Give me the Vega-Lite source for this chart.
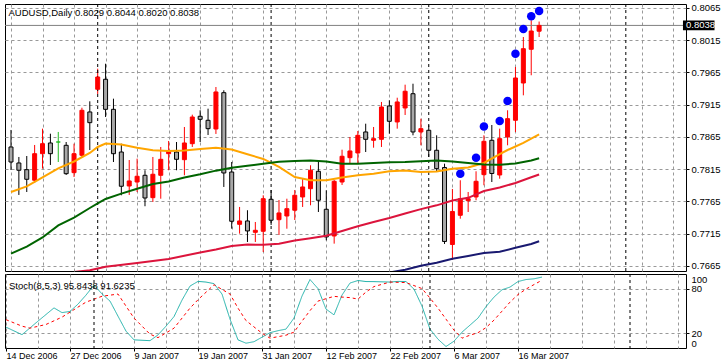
{
  "$schema": "https://vega.github.io/schema/vega-lite/v6.json",
  "padding": {"left": 4, "top": 2, "right": 0, "bottom": 0},
  "background": "white",
  "spacing": 1,
  "resolve": {"scale": {"color": "independent", "stroke": "independent", "fill": "independent", "strokeDash": "independent"}},
  "config": {
    "view": {"stroke": "black", "strokeWidth": 1},
    "font": "Liberation Sans",
    "axis": {"labelFont": "Liberation Sans", "labelFontSize": 9.5, "labelColor": "black", "tickColor": "black", "gridColor": "#999999", "gridDash": [3, 3], "gridWidth": 1, "domain": false, "labelOverlap": false},
    "title": {"font": "Liberation Sans", "fontSize": 9.5, "fontWeight": "normal", "color": "black", "anchor": "start"}
  },
  "datasets": {
    "candles": [
      {"i":0,"date":"2006-12-14","o":0.78495,"h":0.78759,"l":0.78138,"c":0.78262,"dir":"down"},
      {"i":1,"date":"2006-12-15","o":0.78247,"h":0.78340,"l":0.77751,"c":0.78134,"dir":"down"},
      {"i":2,"date":"2006-12-18","o":0.78143,"h":0.78355,"l":0.77797,"c":0.77994,"dir":"down"},
      {"i":3,"date":"2006-12-19","o":0.77979,"h":0.78526,"l":0.77937,"c":0.78391,"dir":"up"},
      {"i":4,"date":"2006-12-20","o":0.78391,"h":0.78779,"l":0.78159,"c":0.78546,"dir":"up"},
      {"i":5,"date":"2006-12-21","o":0.78557,"h":0.78701,"l":0.78216,"c":0.78391,"dir":"down"},
      {"i":6,"date":"2006-12-22","o":0.78572,"h":0.78728,"l":0.78262,"c":0.78572,"dir":"doji"},
      {"i":7,"date":"2006-12-26","o":0.78521,"h":0.78572,"l":0.78061,"c":0.78081,"dir":"down"},
      {"i":8,"date":"2006-12-27","o":0.78097,"h":0.78546,"l":0.78030,"c":0.78391,"dir":"up"},
      {"i":9,"date":"2006-12-28","o":0.78366,"h":0.79104,"l":0.78340,"c":0.79064,"dir":"up"},
      {"i":10,"date":"2006-12-29","o":0.79038,"h":0.79203,"l":0.78448,"c":0.78872,"dir":"down"},
      {"i":11,"date":"2007-01-02","o":0.79390,"h":0.79709,"l":0.79317,"c":0.79580,"dir":"up"},
      {"i":12,"date":"2007-01-03","o":0.79545,"h":0.79786,"l":0.78960,"c":0.79079,"dir":"down"},
      {"i":13,"date":"2007-01-04","o":0.79079,"h":0.79244,"l":0.78262,"c":0.78391,"dir":"down"},
      {"i":14,"date":"2007-01-05","o":0.78417,"h":0.78546,"l":0.77746,"c":0.77886,"dir":"down"},
      {"i":15,"date":"2007-01-08","o":0.77890,"h":0.78293,"l":0.77751,"c":0.77968,"dir":"up"},
      {"i":16,"date":"2007-01-09","o":0.77952,"h":0.78314,"l":0.77797,"c":0.78041,"dir":"up"},
      {"i":17,"date":"2007-01-10","o":0.78056,"h":0.78134,"l":0.77576,"c":0.77704,"dir":"down"},
      {"i":18,"date":"2007-01-11","o":0.77709,"h":0.78340,"l":0.77642,"c":0.78072,"dir":"up"},
      {"i":19,"date":"2007-01-12","o":0.78056,"h":0.78495,"l":0.77693,"c":0.78304,"dir":"up"},
      {"i":20,"date":"2007-01-15","o":0.78391,"h":0.78588,"l":0.78134,"c":0.78433,"dir":"up"},
      {"i":21,"date":"2007-01-16","o":0.78417,"h":0.78572,"l":0.78134,"c":0.78304,"dir":"down"},
      {"i":22,"date":"2007-01-17","o":0.78298,"h":0.78805,"l":0.78056,"c":0.78557,"dir":"up"},
      {"i":23,"date":"2007-01-18","o":0.78546,"h":0.78996,"l":0.78495,"c":0.78960,"dir":"up"},
      {"i":24,"date":"2007-01-19","o":0.78971,"h":0.79064,"l":0.78572,"c":0.78924,"dir":"down"},
      {"i":25,"date":"2007-01-22","o":0.78909,"h":0.79089,"l":0.78681,"c":0.78779,"dir":"down"},
      {"i":26,"date":"2007-01-23","o":0.78774,"h":0.79425,"l":0.78697,"c":0.79348,"dir":"up"},
      {"i":27,"date":"2007-01-24","o":0.79337,"h":0.79374,"l":0.77875,"c":0.78092,"dir":"down"},
      {"i":28,"date":"2007-01-25","o":0.78107,"h":0.78262,"l":0.77228,"c":0.77343,"dir":"down"},
      {"i":29,"date":"2007-01-26","o":0.77296,"h":0.77565,"l":0.77151,"c":0.77348,"dir":"up"},
      {"i":30,"date":"2007-01-29","o":0.77348,"h":0.77514,"l":0.77022,"c":0.77193,"dir":"down"},
      {"i":31,"date":"2007-01-30","o":0.77172,"h":0.77332,"l":0.77022,"c":0.77203,"dir":"up"},
      {"i":32,"date":"2007-01-31","o":0.77188,"h":0.77746,"l":0.76867,"c":0.77693,"dir":"up"},
      {"i":33,"date":"2007-02-01","o":0.77684,"h":0.77828,"l":0.77286,"c":0.77359,"dir":"down"},
      {"i":34,"date":"2007-02-02","o":0.77368,"h":0.77673,"l":0.77131,"c":0.77472,"dir":"up"},
      {"i":35,"date":"2007-02-05","o":0.77425,"h":0.77693,"l":0.77228,"c":0.77538,"dir":"up"},
      {"i":36,"date":"2007-02-06","o":0.77514,"h":0.77828,"l":0.77363,"c":0.77746,"dir":"up"},
      {"i":37,"date":"2007-02-07","o":0.77720,"h":0.78003,"l":0.77565,"c":0.77875,"dir":"up"},
      {"i":38,"date":"2007-02-08","o":0.77848,"h":0.78211,"l":0.77591,"c":0.78134,"dir":"up"},
      {"i":39,"date":"2007-02-09","o":0.78118,"h":0.78262,"l":0.77487,"c":0.77669,"dir":"down"},
      {"i":40,"date":"2007-02-12","o":0.77529,"h":0.77824,"l":0.77048,"c":0.77100,"dir":"down"},
      {"i":41,"date":"2007-02-13","o":0.77115,"h":0.77983,"l":0.76996,"c":0.77963,"dir":"up"},
      {"i":42,"date":"2007-02-14","o":0.77952,"h":0.78453,"l":0.77906,"c":0.78351,"dir":"up"},
      {"i":43,"date":"2007-02-15","o":0.78329,"h":0.78650,"l":0.78236,"c":0.78433,"dir":"up"},
      {"i":44,"date":"2007-02-16","o":0.78402,"h":0.78743,"l":0.78236,"c":0.78676,"dir":"up"},
      {"i":45,"date":"2007-02-19","o":0.78728,"h":0.78856,"l":0.78417,"c":0.78614,"dir":"down"},
      {"i":46,"date":"2007-02-20","o":0.78599,"h":0.78805,"l":0.78484,"c":0.78624,"dir":"up"},
      {"i":47,"date":"2007-02-21","o":0.78614,"h":0.79193,"l":0.78495,"c":0.79115,"dir":"up"},
      {"i":48,"date":"2007-02-22","o":0.79131,"h":0.79219,"l":0.78701,"c":0.78893,"dir":"down"},
      {"i":49,"date":"2007-02-23","o":0.78883,"h":0.79259,"l":0.78779,"c":0.79193,"dir":"up"},
      {"i":50,"date":"2007-02-26","o":0.79100,"h":0.79461,"l":0.78991,"c":0.79359,"dir":"up"},
      {"i":51,"date":"2007-02-27","o":0.79321,"h":0.79476,"l":0.78676,"c":0.78728,"dir":"down"},
      {"i":52,"date":"2007-02-28","o":0.78728,"h":0.78934,"l":0.78521,"c":0.78779,"dir":"up"},
      {"i":53,"date":"2007-03-01","o":0.78754,"h":0.78831,"l":0.78340,"c":0.78444,"dir":"down"},
      {"i":54,"date":"2007-03-02","o":0.78444,"h":0.78676,"l":0.78107,"c":0.78159,"dir":"down"},
      {"i":55,"date":"2007-03-05","o":0.78177,"h":0.78236,"l":0.76991,"c":0.77030,"dir":"down"},
      {"i":56,"date":"2007-03-06","o":0.76983,"h":0.77844,"l":0.76743,"c":0.77495,"dir":"up"},
      {"i":57,"date":"2007-03-07","o":0.77436,"h":0.77979,"l":0.77383,"c":0.77693,"dir":"up"},
      {"i":58,"date":"2007-03-08","o":0.77662,"h":0.77797,"l":0.77487,"c":0.77693,"dir":"up"},
      {"i":59,"date":"2007-03-09","o":0.77720,"h":0.78118,"l":0.77669,"c":0.77963,"dir":"up"},
      {"i":60,"date":"2007-03-12","o":0.78066,"h":0.78676,"l":0.77901,"c":0.78583,"dir":"up"},
      {"i":61,"date":"2007-03-13","o":0.78599,"h":0.78836,"l":0.77952,"c":0.78084,"dir":"down"},
      {"i":62,"date":"2007-03-14","o":0.78061,"h":0.78779,"l":0.78003,"c":0.78624,"dir":"up"},
      {"i":63,"date":"2007-03-15","o":0.78650,"h":0.79064,"l":0.78521,"c":0.78934,"dir":"up"},
      {"i":64,"date":"2007-03-16","o":0.78909,"h":0.79735,"l":0.78728,"c":0.79565,"dir":"up"},
      {"i":65,"date":"2007-03-19","o":0.79487,"h":0.80200,"l":0.79296,"c":0.80019,"dir":"up"},
      {"i":66,"date":"2007-03-20","o":0.80010,"h":0.80459,"l":0.79607,"c":0.80293,"dir":"up"},
      {"i":67,"date":"2007-03-21","o":0.8029,"h":0.8044,"l":0.8020,"c":0.8038,"dir":"up"}
    ],
    "ma": [
      {"ma":"fast","i":0,"v":0.77797},{"ma":"fast","i":2,"v":0.77883},{"ma":"fast","i":4,"v":0.78022},{"ma":"fast","i":6,"v":0.78162},
      {"ma":"fast","i":8,"v":0.78270},{"ma":"fast","i":10,"v":0.78402},{"ma":"fast","i":11,"v":0.78495},{"ma":"fast","i":12,"v":0.78549},
      {"ma":"fast","i":14,"v":0.78534},{"ma":"fast","i":16,"v":0.78484},{"ma":"fast","i":18,"v":0.78445},{"ma":"fast","i":20,"v":0.78433},
      {"ma":"fast","i":22,"v":0.78442},{"ma":"fast","i":24,"v":0.78464},{"ma":"fast","i":26,"v":0.78484},{"ma":"fast","i":28,"v":0.78456},
      {"ma":"fast","i":30,"v":0.78383},{"ma":"fast","i":32,"v":0.78309},{"ma":"fast","i":34,"v":0.78185},{"ma":"fast","i":36,"v":0.78030},
      {"ma":"fast","i":38,"v":0.77979},{"ma":"fast","i":40,"v":0.77980},{"ma":"fast","i":42,"v":0.78021},{"ma":"fast","i":44,"v":0.78056},
      {"ma":"fast","i":46,"v":0.78081},{"ma":"fast","i":48,"v":0.78117},{"ma":"fast","i":50,"v":0.78132},{"ma":"fast","i":52,"v":0.78107},
      {"ma":"fast","i":54,"v":0.78115},{"ma":"fast","i":56,"v":0.78157},{"ma":"fast","i":58,"v":0.78176},{"ma":"fast","i":60,"v":0.78247},
      {"ma":"fast","i":62,"v":0.78386},{"ma":"fast","i":63,"v":0.78448},{"ma":"fast","i":64,"v":0.78503},{"ma":"fast","i":65,"v":0.78560},
      {"ma":"fast","i":66,"v":0.78624},{"ma":"fast","i":67,"v":0.78689},
      {"ma":"mid","i":0,"v":0.76841},{"ma":"mid","i":2,"v":0.76951},{"ma":"mid","i":4,"v":0.77092},{"ma":"mid","i":6,"v":0.77278},
      {"ma":"mid","i":8,"v":0.77399},{"ma":"mid","i":10,"v":0.77549},{"ma":"mid","i":11,"v":0.77619},{"ma":"mid","i":12,"v":0.77689},
      {"ma":"mid","i":14,"v":0.77771},{"ma":"mid","i":16,"v":0.77848},{"ma":"mid","i":18,"v":0.77921},{"ma":"mid","i":20,"v":0.77959},
      {"ma":"mid","i":22,"v":0.78022},{"ma":"mid","i":24,"v":0.78072},{"ma":"mid","i":26,"v":0.78128},{"ma":"mid","i":28,"v":0.78174},
      {"ma":"mid","i":30,"v":0.78203},{"ma":"mid","i":32,"v":0.78236},{"ma":"mid","i":34,"v":0.78265},{"ma":"mid","i":36,"v":0.78279},
      {"ma":"mid","i":38,"v":0.78287},{"ma":"mid","i":40,"v":0.78270},{"ma":"mid","i":42,"v":0.78236},{"ma":"mid","i":44,"v":0.78236},
      {"ma":"mid","i":46,"v":0.78247},{"ma":"mid","i":48,"v":0.78258},{"ma":"mid","i":50,"v":0.78262},{"ma":"mid","i":52,"v":0.78275},
      {"ma":"mid","i":54,"v":0.78287},{"ma":"mid","i":56,"v":0.78269},{"ma":"mid","i":58,"v":0.78247},{"ma":"mid","i":60,"v":0.78224},
      {"ma":"mid","i":62,"v":0.78219},{"ma":"mid","i":64,"v":0.78239},{"ma":"mid","i":65,"v":0.78262},{"ma":"mid","i":66,"v":0.78286},
      {"ma":"mid","i":67,"v":0.78320},
      {"ma":"slow","i":8,"v":0.76557},{"ma":"slow","i":10,"v":0.76583},{"ma":"slow","i":12,"v":0.76638},{"ma":"slow","i":16,"v":0.76697},
      {"ma":"slow","i":20,"v":0.76759},{"ma":"slow","i":24,"v":0.76859},{"ma":"slow","i":26,"v":0.76906},{"ma":"slow","i":28,"v":0.76960},
      {"ma":"slow","i":30,"v":0.76982},{"ma":"slow","i":32,"v":0.76979},{"ma":"slow","i":34,"v":0.76994},{"ma":"slow","i":36,"v":0.77045},
      {"ma":"slow","i":38,"v":0.77079},{"ma":"slow","i":40,"v":0.77118},{"ma":"slow","i":42,"v":0.77193},{"ma":"slow","i":44,"v":0.77265},
      {"ma":"slow","i":46,"v":0.77332},{"ma":"slow","i":48,"v":0.77394},{"ma":"slow","i":50,"v":0.77464},{"ma":"slow","i":52,"v":0.77531},
      {"ma":"slow","i":54,"v":0.77590},{"ma":"slow","i":56,"v":0.77666},{"ma":"slow","i":58,"v":0.77707},{"ma":"slow","i":60,"v":0.77813},
      {"ma":"slow","i":62,"v":0.77867},{"ma":"slow","i":64,"v":0.77937},{"ma":"slow","i":66,"v":0.78025},{"ma":"slow","i":67,"v":0.78069},
      {"ma":"vslow","i":48,"v":0.76549},{"ma":"vslow","i":50,"v":0.76591},{"ma":"vslow","i":52,"v":0.76653},{"ma":"vslow","i":54,"v":0.76700},
      {"ma":"vslow","i":56,"v":0.76763},{"ma":"vslow","i":58,"v":0.76805},{"ma":"vslow","i":60,"v":0.76852},{"ma":"vslow","i":62,"v":0.76870},
      {"ma":"vslow","i":64,"v":0.76932},{"ma":"vslow","i":66,"v":0.76991},{"ma":"vslow","i":67,"v":0.77033}
    ],
    "dots": [
      {"i":57,"v":0.78081},{"i":59,"v":0.78329},{"i":60,"v":0.78813},{"i":62,"v":0.78898},{"i":63,"v":0.79208},
      {"i":64,"v":0.79941},{"i":65,"v":0.80324},{"i":66,"v":0.80521},{"i":67,"v":0.80603}
    ],
    "seps": [
      {"i":11,"month":"Jan 2007"},{"i":33,"month":"Feb 2007"},{"i":53,"month":"Mar 2007"},{"i":78,"month":"Apr 2007"}
    ],
    "last": [{"i":67,"price":0.8038,"label":"0.8038"}],
    "stoch": [
      {"line":"K","i":0,"v":28.2},{"line":"K","i":2,"v":18},{"line":"K","i":4,"v":36.3},{"line":"K","i":6,"v":54.2},
      {"line":"K","i":7,"v":47.8},{"line":"K","i":8,"v":49.4},{"line":"K","i":9,"v":59.3},{"line":"K","i":10,"v":71.5},
      {"line":"K","i":11,"v":85},{"line":"K","i":12,"v":73.1},{"line":"K","i":13,"v":63.4},{"line":"K","i":14,"v":43},
      {"line":"K","i":15,"v":22.8},{"line":"K","i":16,"v":11},{"line":"K","i":18,"v":9.9},{"line":"K","i":19,"v":17.7},
      {"line":"K","i":20,"v":29.5},{"line":"K","i":21,"v":42.4},{"line":"K","i":22,"v":64.7},{"line":"K","i":23,"v":83.7},
      {"line":"K","i":24,"v":90},{"line":"K","i":25,"v":89.1},{"line":"K","i":26,"v":87},{"line":"K","i":27,"v":72.9},
      {"line":"K","i":28,"v":39},{"line":"K","i":29,"v":11},{"line":"K","i":30,"v":6.5},{"line":"K","i":31,"v":8.5},
      {"line":"K","i":32,"v":14.6},{"line":"K","i":33,"v":20.7},{"line":"K","i":34,"v":23.4},{"line":"K","i":35,"v":25.5},
      {"line":"K","i":36,"v":40.4},{"line":"K","i":37,"v":70.2},{"line":"K","i":38,"v":92.5},{"line":"K","i":39,"v":80.3},
      {"line":"K","i":40,"v":52.6},{"line":"K","i":41,"v":44.8},{"line":"K","i":42,"v":71.5},{"line":"K","i":43,"v":87.8},
      {"line":"K","i":44,"v":91.2},{"line":"K","i":45,"v":89.8},{"line":"K","i":46,"v":89.7},{"line":"K","i":47,"v":89.4},
      {"line":"K","i":48,"v":89.1},{"line":"K","i":49,"v":90},{"line":"K","i":50,"v":89.8},{"line":"K","i":51,"v":79.6},
      {"line":"K","i":52,"v":56.6},{"line":"K","i":53,"v":25.5},{"line":"K","i":54,"v":11.9},{"line":"K","i":55,"v":2},
      {"line":"K","i":56,"v":9.2},{"line":"K","i":57,"v":21.4},{"line":"K","i":58,"v":30.9},{"line":"K","i":59,"v":40.4},
      {"line":"K","i":60,"v":55.9},{"line":"K","i":61,"v":68.8},{"line":"K","i":62,"v":78.7},{"line":"K","i":63,"v":82.3},
      {"line":"K","i":64,"v":89.8},{"line":"K","i":65,"v":92.5},{"line":"K","i":66,"v":93.5},{"line":"K","i":67,"v":95.8438},
      {"line":"D","i":0,"v":38.3},{"line":"D","i":2,"v":29.5},{"line":"D","i":3,"v":26.8},{"line":"D","i":5,"v":31.8},
      {"line":"D","i":7,"v":41.7},{"line":"D","i":8,"v":48.5},{"line":"D","i":10,"v":62},{"line":"D","i":12,"v":69.9},
      {"line":"D","i":14,"v":72.9},{"line":"D","i":15,"v":56.6},{"line":"D","i":16,"v":40.4},{"line":"D","i":18,"v":18.7},
      {"line":"D","i":19,"v":14},{"line":"D","i":21,"v":26.8},{"line":"D","i":23,"v":53.9},{"line":"D","i":24,"v":65.2},
      {"line":"D","i":26,"v":85.5},{"line":"D","i":28,"v":72.9},{"line":"D","i":29,"v":53.9},{"line":"D","i":30,"v":37},
      {"line":"D","i":32,"v":20},{"line":"D","i":33,"v":13.3},{"line":"D","i":35,"v":17.3},{"line":"D","i":36,"v":21.4},
      {"line":"D","i":37,"v":36.3},{"line":"D","i":38,"v":50.5},{"line":"D","i":39,"v":63.4},{"line":"D","i":41,"v":69.8},
      {"line":"D","i":42,"v":68.8},{"line":"D","i":43,"v":68.1},{"line":"D","i":44,"v":66.1},{"line":"D","i":45,"v":75.6},
      {"line":"D","i":46,"v":83},{"line":"D","i":48,"v":89.1},{"line":"D","i":50,"v":88.4},{"line":"D","i":52,"v":80.3},
      {"line":"D","i":53,"v":67.5},{"line":"D","i":54,"v":53.9},{"line":"D","i":55,"v":39},{"line":"D","i":56,"v":24.1},
      {"line":"D","i":57,"v":13.3},{"line":"D","i":58,"v":17.3},{"line":"D","i":59,"v":20.7},{"line":"D","i":60,"v":27.5},
      {"line":"D","i":61,"v":37.7},{"line":"D","i":62,"v":49.8},{"line":"D","i":63,"v":62},{"line":"D","i":64,"v":72.2},
      {"line":"D","i":65,"v":79.6},{"line":"D","i":66,"v":85.7},{"line":"D","i":67,"v":91.6235}
    ]
  },
  "vconcat": [
    {
      "width": 681,
      "height": 267,
      "title": {"text": "AUDUSD,Daily  0.8029 0.8044 0.8020 0.8038", "offset": -15, "dx": 4},
      "layer": [
        {
          "data": {"name": "candles"},
          "mark": {"type": "rule", "strokeWidth": 1},
          "encoding": {
            "x": {"field": "i", "type": "quantitative", "scale": {"domain": [-0.125, 85], "nice": false, "zero": false},
              "axis": {"values": [0,4,8,12,16,20,24,28,32,36,40,44,48,52,56,60,64,68,72,76,80,84], "tickCount": 50, "labels": false, "ticks": false, "domain": false, "grid": true, "title": null, "minExtent": 0, "maxExtent": 0, "offset": 0}},
            "y": {"field": "l", "type": "quantitative", "scale": {"domain": [0.76572, 0.80712], "nice": false, "zero": false},
              "axis": {"orient": "right", "values": [0.7665,0.7715,0.7765,0.7815,0.7865,0.7915,0.7965,0.8015,0.8065], "tickCount": 30, "format": ".4f", "tickSize": 3, "labelPadding": 2, "grid": true, "title": null, "labelFlush": false, "labelOverlap": false}},
            "y2": {"field": "h"},
            "stroke": {"field": "dir", "type": "nominal", "scale": {"domain": ["up", "down", "doji"], "range": ["#ff0000", "#000000", "#22bb22"]}, "legend": null}
          }
        },
        {
          "data": {"name": "seps"},
          "mark": {"type": "rule", "color": "black", "strokeDash": [3, 3], "strokeWidth": 1},
          "encoding": {
            "x": {"field": "i", "type": "quantitative"}
          }
        },
        {
          "data": {"name": "last"},
          "mark": {"type": "rule", "color": "#808080", "strokeWidth": 1},
          "encoding": {
            "y": {"field": "price", "type": "quantitative"}
          }
        },
        {
          "data": {"name": "candles"},
          "mark": {"type": "bar", "size": 4, "strokeWidth": 1},
          "encoding": {
            "x": {"field": "i", "type": "quantitative"},
            "y": {"field": "o", "type": "quantitative"},
            "y2": {"field": "c"},
            "fill": {"field": "dir", "type": "nominal", "scale": {"domain": ["up", "down", "doji"], "range": ["#ff0000", "#a8a8a8", "#22bb22"]}, "legend": null},
            "stroke": {"field": "dir", "type": "nominal", "legend": null}
          }
        },
        {
          "data": {"name": "ma"},
          "mark": {"type": "line", "strokeWidth": 2, "clip": true},
          "encoding": {
            "x": {"field": "i", "type": "quantitative"},
            "y": {"field": "v", "type": "quantitative"},
            "color": {"field": "ma", "type": "nominal", "scale": {"domain": ["fast", "mid", "slow", "vslow"], "range": ["#ffa500", "#006400", "#dc143c", "#191970"]}, "legend": null}
          }
        },
        {
          "data": {"name": "dots"},
          "mark": {"type": "circle", "size": 72, "color": "#0000ff", "opacity": 1, "clip": true},
          "encoding": {
            "x": {"field": "i", "type": "quantitative"},
            "y": {"field": "v", "type": "quantitative"}
          }
        },
        {
          "data": {"name": "last"},
          "mark": {"type": "rect", "color": "black", "clip": false},
          "encoding": {
            "x": {"datum": 85.25, "type": "quantitative"},
            "x2": {"datum": 89.25},
            "y": {"datum": 0.80305, "type": "quantitative"},
            "y2": {"datum": 0.80455}
          }
        },
        {
          "data": {"name": "last"},
          "mark": {"type": "text", "color": "white", "align": "left", "baseline": "middle", "fontSize": 9.5, "font": "Liberation Sans", "dx": 3, "clip": false},
          "encoding": {
            "x": {"datum": 85.25, "type": "quantitative"},
            "y": {"field": "price", "type": "quantitative"},
            "text": {"field": "label"}
          }
        }
      ]
    },
    {
      "width": 681,
      "height": 74,
      "title": {"text": "Stoch(8,5,3) 95.8438 91.6235", "offset": -17, "dx": 4},
      "layer": [
        {
          "data": {"name": "stoch"},
          "mark": {"type": "line", "strokeWidth": 1, "clip": true},
          "encoding": {
            "x": {"field": "i", "type": "quantitative", "scale": {"domain": [-0.125, 85], "nice": false, "zero": false},
              "axis": {"values": [0,4,8,12,16,20,24,28,32,36,40,44,48,52,56,60,64,68,72,76,80,84], "tickCount": 50,
                "labelExpr": "datum.value % 8 == 0 && datum.value <= 64 ? ['14 Dec 2006','27 Dec 2006','9 Jan 2007','19 Jan 2007','31 Jan 2007','12 Feb 2007','22 Feb 2007','6 Mar 2007','16 Mar 2007'][datum.value / 8] : ''",
                "labelAlign": "left", "labelFontSize": 9, "labelPadding": 0, "labelDx": 1, "tickSize": 3, "labelFlush": false, "labelOverlap": false, "labelBound": false,
                "tickColor": {"condition": {"test": "datum.value % 8 == 0 && datum.value <= 64", "value": "black"}, "value": "transparent"},
                "domain": false, "grid": true, "title": null}},
            "y": {"field": "v", "type": "quantitative", "scale": {"domain": [0, 100], "nice": false, "zero": false},
              "axis": {"orient": "right", "values": [0, 20, 80, 100], "tickCount": 20, "labelFlush": true, "labelOverlap": false, "tickSize": 3, "labelPadding": 2, "grid": true, "title": null,
                "gridColor": {"condition": {"test": "datum.value == 20 || datum.value == 80", "value": "#999999"}, "value": "transparent"},
                "tickColor": {"condition": {"test": "datum.value == 20 || datum.value == 80", "value": "black"}, "value": "transparent"}}},
            "color": {"field": "line", "type": "nominal", "scale": {"domain": ["K", "D"], "range": ["#20b2aa", "#ff0000"]}, "legend": null},
            "strokeDash": {"field": "line", "type": "nominal", "scale": {"domain": ["K", "D"], "range": [[1, 0], [3, 3]]}, "legend": null}
          }
        },
        {
          "data": {"name": "seps"},
          "mark": {"type": "rule", "color": "black", "strokeDash": [3, 3], "strokeWidth": 1},
          "encoding": {
            "x": {"field": "i", "type": "quantitative"}
          }
        }
      ]
    }
  ]
}
